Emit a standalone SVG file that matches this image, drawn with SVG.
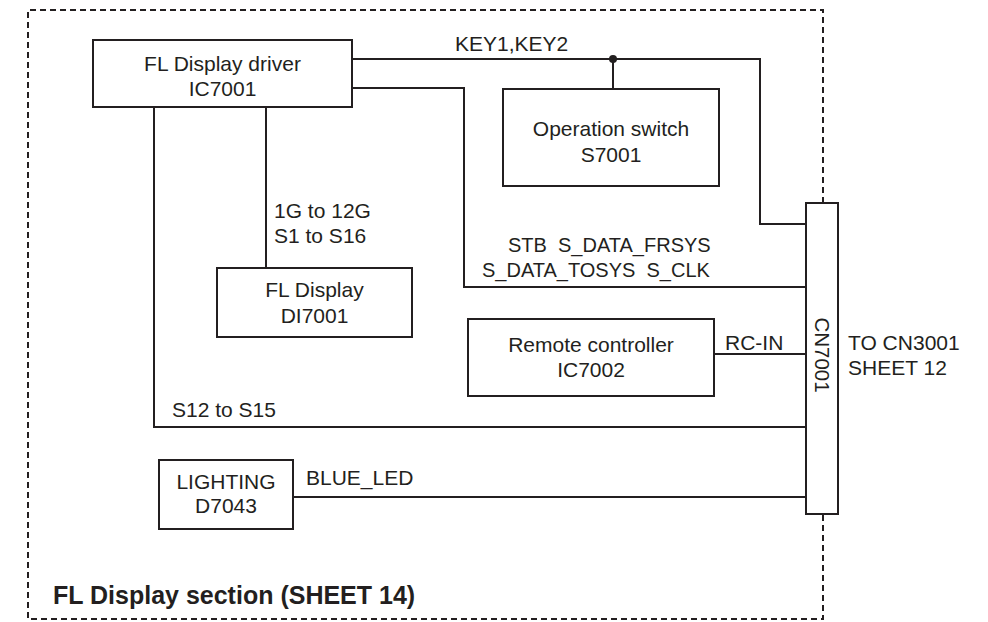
<svg xmlns="http://www.w3.org/2000/svg" width="988" height="622" viewBox="0 0 988 622">
<style>
.box{fill:#fff;stroke:#231f20;stroke-width:2}
.ln{fill:none;stroke:#231f20;stroke-width:2}
.dash{fill:none;stroke:#231f20;stroke-width:2;stroke-dasharray:6 4}
text{font-family:"Liberation Sans",Arial,Helvetica,sans-serif;font-size:21px;fill:#231f20}
.c{text-anchor:middle}
.sig{font-size:20px;white-space:pre}
.title{font-weight:bold;font-size:25px}
</style>
<rect width="988" height="622" fill="#fff"/>
<g id="frame">
<path class="dash" d="M823,203 V10 H28 V619 H823 V514"/>
<text class="title" x="53" y="604">FL Display section (SHEET 14)</text>
</g>
<g id="connectors">
<path class="ln" d="M352,59 H760 V224 H806"/>
<path class="ln" d="M613,59 V89"/>
<circle cx="613" cy="59" r="4" fill="#231f20"/>
<path class="ln" d="M352,88 H464 V287 H806"/>
<path class="ln" d="M266,107 V268"/>
<path class="ln" d="M154,107 V427 H806"/>
<path class="ln" d="M714,354 H806"/>
<path class="ln" d="M293,497 H806"/>
<text x="455" y="51">KEY1,KEY2</text>
<text x="274" y="218">1G to 12G</text>
<text x="274" y="243">S1 to S16</text>
<text class="sig" xml:space="preserve" x="508" y="252">STB  S_DATA_FRSYS</text>
<text class="sig" xml:space="preserve" x="482" y="277">S_DATA_TOSYS  S_CLK</text>
<text x="725" y="350">RC-IN</text>
<text x="172" y="417">S12 to S15</text>
<text x="306" y="485">BLUE_LED</text>
</g>
<g id="driver">
<rect class="box" x="93" y="40" width="259" height="67"/>
<text class="c" x="222.5" y="71">FL Display driver</text>
<text class="c" x="222.5" y="96">IC7001</text>
</g>
<g id="opswitch">
<rect class="box" x="503" y="89" width="216" height="97"/>
<text class="c" x="611" y="136">Operation switch</text>
<text class="c" x="611" y="162">S7001</text>
</g>
<g id="fldisplay">
<rect class="box" x="217" y="268" width="195" height="69"/>
<text class="c" x="314.5" y="297">FL Display</text>
<text class="c" x="314.5" y="323">DI7001</text>
</g>
<g id="remote">
<rect class="box" x="468" y="319" width="246" height="77"/>
<text class="c" x="591" y="352">Remote controller</text>
<text class="c" x="591" y="377">IC7002</text>
</g>
<g id="lighting">
<rect class="box" x="159" y="460" width="134" height="69"/>
<text class="c" x="226" y="489">LIGHTING</text>
<text class="c" x="226" y="513">D7043</text>
</g>
<g id="cn7001">
<rect class="box" x="806" y="203" width="32" height="311"/>
<text class="c" transform="translate(822,355) rotate(90)" x="0" y="7" style="font-size:20.5px">CN7001</text>
<text x="848" y="350">TO CN3001</text>
<text x="848" y="375">SHEET 12</text>
</g>
</svg>
